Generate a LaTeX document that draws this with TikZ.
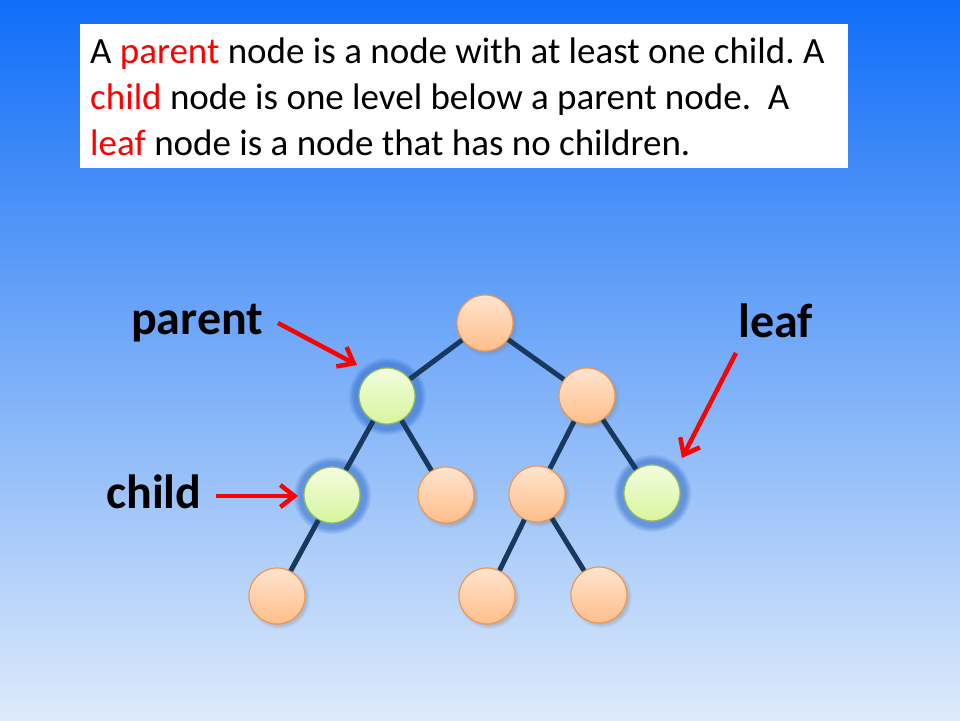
\documentclass[tikz,border=0pt]{standalone}
\usepackage{fontspec}
\setmainfont{Carlito}
\usetikzlibrary{positioning,arrows.meta,shadows}
\definecolor{bgtop}{RGB}{16,110,248}
\definecolor{bgmid}{RGB}{96,168,250}
\definecolor{bgbot}{RGB}{222,235,250}
\definecolor{otop}{RGB}{255,228,206}
\definecolor{obot}{RGB}{255,190,138}
\definecolor{oline}{RGB}{240,150,80}
\definecolor{gtop}{RGB}{244,252,222}
\definecolor{gbot}{RGB}{214,246,158}
\definecolor{gline}{RGB}{150,185,90}
\definecolor{gglow}{RGB}{30,90,190}
\definecolor{tcol}{RGB}{24,56,94}
\tikzstyle{onode}=[circle, minimum size=56pt, inner sep=0pt, draw=oline, line width=1.2pt,
                   top color=otop, bottom color=obot,
                   circular drop shadow={shadow xshift=2pt, shadow yshift=-2pt, opacity=0.35}]
\tikzstyle{gnode}=[circle, minimum size=56pt, inner sep=0pt, draw=gline, line width=1.2pt,
                   top color=gtop, bottom color=gbot,
                   circular glow={fill=gglow, opacity=0.45, shadow scale=1.4}]
\tikzstyle{tline}=[-, line width=5pt, tcol]
\tikzstyle{rarrow}=[-{Straight Barb[length=14pt,width=22pt]}, line width=4.5pt, red]
\tikzstyle{lbl}=[font=\fontsize{48}{54}\selectfont\bfseries, inner sep=0pt, anchor=base west]
\tikzstyle{txt}=[font=\fontsize{37}{46}\selectfont, inner sep=0pt, anchor=base west]

\begin{document}
\frenchspacing
\begin{tikzpicture}[x=1pt,y=-1pt]

\useasboundingbox (0,0) rectangle (960,720);
\shade[top color=bgtop, middle color=bgmid, bottom color=bgbot] (0,0) rectangle (960,720);

% definition box
\node (tbox) [fill=white, inner sep=0pt, minimum width=768pt, minimum height=144pt,
 anchor=north west] at (80,24) {};
\node (lineA) [txt] at (90,63) {A \textcolor{red}{parent} node is a node with at least one child. A};
\node (lineB) [txt] at (90,109) {\textcolor{red}{child} node is one level below a parent node.\ \ A};
\node (lineC) [txt] at (90,155) {\textcolor{red}{leaf} node is a node that has no children.};

% tree
\node (root) [onode] at (485,323) {};
\node (L) [gnode] at (387,396) {};
\node (R) [onode] at (587,396) {};
\node (LL) [gnode] at (332,495) {};
\node (LR) [onode] at (446,495) {};
\node (RL) [onode] at (537,494) {};
\node (RR) [gnode] at (652,493) {};
\node (LLL) [onode] at (277,596) {};
\node (RLL) [onode] at (487,596) {};
\node (RLR) [onode] at (599,595) {};

 \draw[tline] (root) -- (L);
 \draw[tline] (root) -- (R);
 \draw[tline] (L) -- (LL);
 \draw[tline] (L) -- (LR);
 \draw[tline] (R) -- (RL);
 \draw[tline] (R) -- (RR);
 \draw[tline] (LL) -- (LLL);
 \draw[tline] (RL) -- (RLL);
 \draw[tline] (RL) -- (RLR);

% labels and arrows
\node (parentlbl) [lbl] at (131,334) {parent};
\node (childlbl) [lbl] at (106,508) {child};
\node (leaflbl) [lbl] at (738,337) {leaf};
\coordinate (pa) at (278,323);
\coordinate (ca) at (216,496);
\coordinate (la) at (736,353);
\coordinate (pt) at (357,365);
\coordinate (ct) at (298,496);
\coordinate (lt) at (682,458);
\draw[rarrow] (pa) -- (pt);
\draw[rarrow] (ca) -- (ct);
\draw[rarrow] (la) -- (lt);

\end{tikzpicture}
\end{document}
